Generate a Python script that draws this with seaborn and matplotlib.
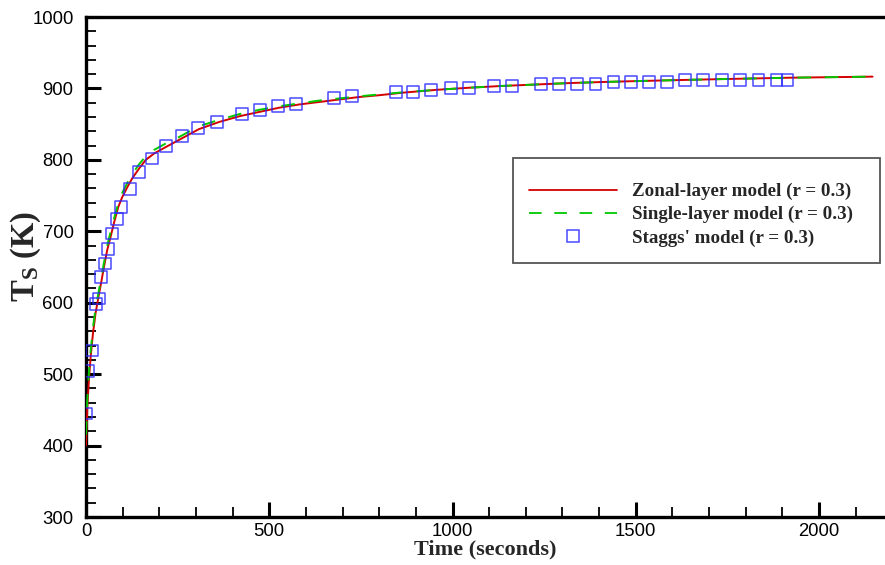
import matplotlib
matplotlib.use("Agg")
import matplotlib.pyplot as plt
import seaborn as sns
import pandas as pd
from matplotlib.patches import Rectangle
from matplotlib.lines import Line2D
from matplotlib.ticker import MultipleLocator

# ---- data ----
t_zonal = [0, 3.6, 8, 12.7, 19, 26, 34, 41, 49, 58, 67, 76, 88, 99, 113, 126, 145, 163, 186,
           218, 254, 308, 363, 418, 472, 527, 581, 636, 691, 745, 800, 863, 955, 1046, 1136,
           1228, 1319, 1409, 1482, 1600, 1728, 1919, 2146]
T_zonal = [400, 454, 492, 524, 557, 585, 608, 627, 650, 674, 692, 711, 734, 748, 762, 774, 788,
           800, 809, 818, 828, 843, 853, 861, 867, 873, 877.5, 881, 884.5, 888, 890.5, 894,
           898, 901, 903.5, 905.5, 907.5, 909, 910, 911.5, 913, 915, 916.5]

t_single = [0, 3.6, 8, 12.7, 19, 26, 34, 41, 49, 58, 67, 76, 88, 99, 113, 126, 145, 163, 186,
            218, 254, 308, 363, 418, 472, 527, 581, 636, 691, 745, 800, 863, 955, 1046, 1136,
            1228, 1319, 1409, 1482, 1600, 1728, 1919, 2146]
T_single = [415, 465, 503, 533, 565, 592, 614, 633, 656, 680, 699, 717, 739, 754, 768, 780, 794,
            805, 814, 823, 832, 847, 856, 864, 870, 875, 879, 883, 886, 889, 891.5, 894.5,
            898, 901, 903.5, 905.5, 907.5, 909, 910, 911.5, 913, 915, 916.5]

t_staggs = [1, 5, 16, 27, 35, 41, 52, 60, 71, 85, 96, 120, 145, 180, 218, 262, 306, 357, 426,
            475, 524, 573, 677, 726, 846, 893, 942, 996, 1046, 1114, 1163, 1242, 1291, 1340,
            1390, 1439, 1488, 1537, 1586, 1635, 1684, 1736, 1785, 1835, 1884, 1914]
T_staggs = [445, 504, 533, 598, 606, 636, 655, 675, 697, 717, 734, 759, 783, 802, 819, 833, 845,
            853, 864, 870, 875, 878, 887, 889, 895, 895, 898, 900.5, 901, 903.5, 903.5, 906.5,
            906.5, 906.5, 906.5, 909.5, 909.5, 909.5, 909.5, 912, 912, 912, 912, 912, 912, 912]

labels = ["Zonal-layer model (r = 0.3)", "Single-layer model (r = 0.3)", "Staggs' model (r = 0.3)"]

# ---- style ----
sns.set_style("ticks")
plt.rcParams["font.family"] = ["Liberation Sans", "DejaVu Sans"]
plt.rcParams["mathtext.fontset"] = "custom"
plt.rcParams["mathtext.rm"] = "Liberation Serif:bold"
plt.rcParams["mathtext.bf"] = "Liberation Serif:bold"
plt.rcParams["mathtext.it"] = "Liberation Serif:bold"

W, H = 885, 565
fig = plt.figure(figsize=(W / 100, H / 100), dpi=100)
ax = fig.add_axes([86 / W, 1 - 517 / H, (885 - 86) / W, (517 - 17) / H])

red = "#d40000"
green = "#00c800"
blue = "#2a2aff"

df_z = pd.DataFrame({"t": t_zonal, "T": T_zonal})
df_s = pd.DataFrame({"t": t_single, "T": T_single})
df_g = pd.DataFrame({"t": t_staggs, "T": T_staggs})

sns.lineplot(data=df_z, x="t", y="T", ax=ax, color=red, lw=1.4, sort=False, zorder=3)
sns.lineplot(data=df_s, x="t", y="T", ax=ax, color=green, lw=1.4, sort=False, zorder=4)
ax.lines[-1].set_dashes([7, 7])
sns.scatterplot(data=df_g, x="t", y="T", ax=ax, marker="s", s=72, facecolor="none",
                edgecolor=blue, linewidth=1.1, alpha=0.85, zorder=5)

ax.set_xlim(0, 2180)
ax.set_ylim(300, 1000)
ax.xaxis.set_major_locator(MultipleLocator(500))
ax.xaxis.set_minor_locator(MultipleLocator(100))
ax.yaxis.set_major_locator(MultipleLocator(100))
ax.yaxis.set_minor_locator(MultipleLocator(20))
ax.tick_params(which="major", direction="in", length=11, width=2.2, labelsize=13.3,
               colors="black")
ax.tick_params(which="minor", direction="in", length=7, width=1.3, colors="black")
ax.tick_params(axis="x", pad=4)
ax.tick_params(axis="y", pad=9)

for s in ["left", "bottom", "top"]:
    ax.spines[s].set_linewidth(2.4)
    ax.spines[s].set_color("black")
ax.spines["right"].set_visible(False)

ax.set_xlabel("Time (seconds)", fontfamily="Liberation Serif", fontweight="bold",
              fontsize=16, labelpad=0)
ax.set_ylabel(r"$\mathbf{T_S}$ (K)", fontfamily="Liberation Serif", fontweight="bold",
              fontsize=23.5)
ax.yaxis.set_label_coords((43 - 86) / (885 - 86), 1 - (256 - 17) / 500)

# legend
handles = [Line2D([], [], color=red, lw=1.3),
           Line2D([], [], color=green, lw=1.3, dashes=[7, 7]),
           Line2D([], [], color=blue, marker="s", ls="none", markersize=8.5,
                  markerfacecolor="none", markeredgewidth=1.1, alpha=0.85)]
leg = ax.legend(handles, labels, loc="upper left",
                bbox_to_anchor=((529 - 86) / (885 - 86), 1 - (183 - 17) / 500),
                frameon=False, borderpad=0, borderaxespad=0, handlelength=4.6,
                handletextpad=0.8, labelspacing=0.3,
                prop={"family": "Liberation Serif", "weight": "bold", "size": 13.7})
ax.add_patch(Rectangle(((513 - 86) / (885 - 86), 1 - (263 - 17) / 500),
                       (880 - 513) / (885 - 86), (263 - 158) / 500,
                       transform=ax.transAxes, fill=False, edgecolor="#555555", lw=1.3,
                       zorder=6))

fig.savefig("out.png", dpi=100)
